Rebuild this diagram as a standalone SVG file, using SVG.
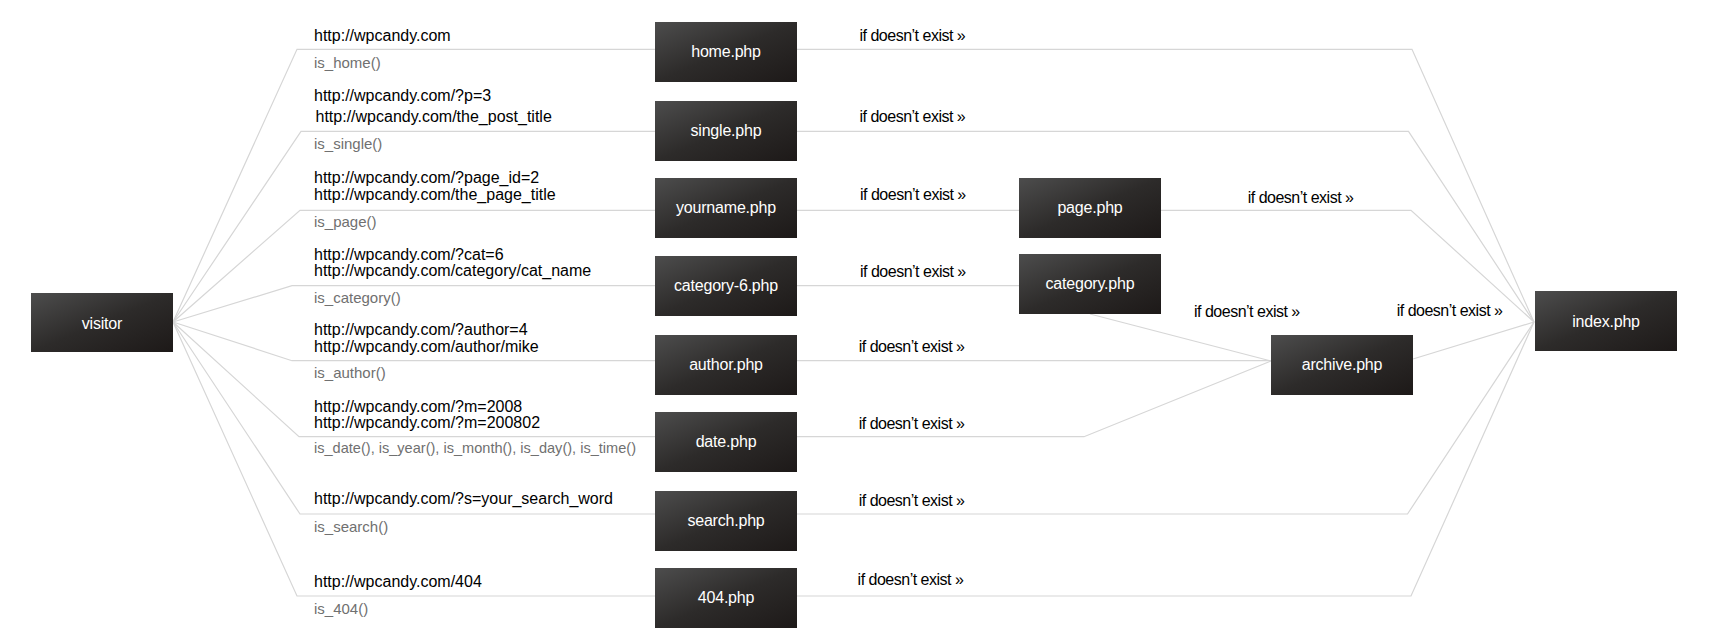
<svg xmlns="http://www.w3.org/2000/svg" width="1713" height="640" viewBox="0 0 1713 640">
<defs>
<linearGradient id="g" x1="0" y1="0" x2="1" y2="1">
<stop offset="0" stop-color="#4d4d4d"/>
<stop offset="0.5" stop-color="#2d2b2a"/>
<stop offset="1" stop-color="#1d1918"/>
</linearGradient>
</defs>
<style>
.box{fill:url(#g)}
.bt{font-family:"Liberation Sans",Arial,sans-serif;font-size:16px;fill:#ffffff;text-anchor:middle;letter-spacing:-0.2px}
.url{font-family:"Liberation Sans",Arial,sans-serif;font-size:16px;fill:#000000;letter-spacing:0px}
.fn{font-family:"Liberation Sans",Arial,sans-serif;font-size:15px;fill:#707070;letter-spacing:0px}
.ie{font-family:"Liberation Sans",Arial,sans-serif;font-size:16px;fill:#000000;letter-spacing:-0.5px}
.ln{fill:none;stroke:#d6d6d6;stroke-width:1.2}
</style>
<rect width="1713" height="640" fill="#ffffff"/>
<g id="connectors">
<polyline class="ln" points="173,322 297,49.3 1412,49.3 1534,322"/>
<polyline class="ln" points="173,322 301,131.3 1408.5,131.3 1534,322"/>
<polyline class="ln" points="173,322 300,210.3 1411,210.3 1534,322"/>
<polyline class="ln" points="173,322 292,285.7 1019,285.7"/>
<polyline class="ln" points="1090,314 1271,361"/>
<polyline class="ln" points="173,322 292,360.7 1271,360.7"/>
<polyline class="ln" points="173,322 299,436.7 1084,436.7 1271,361"/>
<polyline class="ln" points="173,322 300,514 1407.5,514 1534,322"/>
<polyline class="ln" points="173,322 297,596 1411,596 1534,322"/>
<polyline class="ln" points="1413,359 1534,322"/>
</g>
<g id="labels">
<text class="url" x="314" y="40.7">http://wpcandy.com</text>
<text class="fn" x="314" y="67.7">is_home()</text>
<text class="url" x="314" y="101">http://wpcandy.com/?p=3</text>
<text class="url" x="315.5" y="121.7">http://wpcandy.com/the_post_title</text>
<text class="fn" x="314" y="149">is_single()</text>
<text class="url" x="314" y="183.3">http://wpcandy.com/?page_id=2</text>
<text class="url" x="314" y="200">http://wpcandy.com/the_page_title</text>
<text class="fn" x="314" y="226.7">is_page()</text>
<text class="url" x="314" y="260">http://wpcandy.com/?cat=6</text>
<text class="url" x="314" y="276">http://wpcandy.com/category/cat_name</text>
<text class="fn" x="314" y="302.7">is_category()</text>
<text class="url" x="314" y="335">http://wpcandy.com/?author=4</text>
<text class="url" x="314" y="351.7">http://wpcandy.com/author/mike</text>
<text class="fn" x="314" y="377.7">is_author()</text>
<text class="url" x="314" y="411.7">http://wpcandy.com/?m=2008</text>
<text class="url" x="314" y="428.3">http://wpcandy.com/?m=200802</text>
<text class="fn" x="314" y="453.3" textLength="322" lengthAdjust="spacingAndGlyphs">is_date(), is_year(), is_month(), is_day(), is_time()</text>
<text class="url" x="314" y="504.3">http://wpcandy.com/?s=your_search_word</text>
<text class="fn" x="314" y="531.7">is_search()</text>
<text class="url" x="314" y="586.7">http://wpcandy.com/404</text>
<text class="fn" x="314" y="614">is_404()</text>
<text class="ie" x="859.5" y="40.7">if doesn’t exist »</text>
<text class="ie" x="859.5" y="122">if doesn’t exist »</text>
<text class="ie" x="860" y="200">if doesn’t exist »</text>
<text class="ie" x="860" y="276.7">if doesn’t exist »</text>
<text class="ie" x="858.7" y="351.7">if doesn’t exist »</text>
<text class="ie" x="858.7" y="429">if doesn’t exist »</text>
<text class="ie" x="858.7" y="505.7">if doesn’t exist »</text>
<text class="ie" x="857.6" y="585">if doesn’t exist »</text>
<text class="ie" x="1247.7" y="202.7">if doesn’t exist »</text>
<text class="ie" x="1194" y="316.7">if doesn’t exist »</text>
<text class="ie" x="1396.7" y="316">if doesn’t exist »</text>
</g>
<g id="visitor"><rect class="box" x="31" y="293" width="142" height="59"/><text class="bt" x="102" y="329">visitor</text></g>
<g id="home"><rect class="box" x="655" y="22" width="142" height="60"/><text class="bt" x="726" y="57">home.php</text></g>
<g id="single"><rect class="box" x="655" y="101" width="142" height="60"/><text class="bt" x="726" y="136">single.php</text></g>
<g id="yourname"><rect class="box" x="655" y="178" width="142" height="60"/><text class="bt" x="726" y="213">yourname.php</text></g>
<g id="category6"><rect class="box" x="655" y="256" width="142" height="60"/><text class="bt" x="726" y="291">category-6.php</text></g>
<g id="author"><rect class="box" x="655" y="335" width="142" height="60"/><text class="bt" x="726" y="370">author.php</text></g>
<g id="date"><rect class="box" x="655" y="412" width="142" height="60"/><text class="bt" x="726" y="447">date.php</text></g>
<g id="search"><rect class="box" x="655" y="491" width="142" height="60"/><text class="bt" x="726" y="526">search.php</text></g>
<g id="p404"><rect class="box" x="655" y="568" width="142" height="60"/><text class="bt" x="726" y="603">404.php</text></g>
<g id="page"><rect class="box" x="1019" y="178" width="142" height="60"/><text class="bt" x="1090" y="213">page.php</text></g>
<g id="category"><rect class="box" x="1019" y="254" width="142" height="60"/><text class="bt" x="1090" y="289">category.php</text></g>
<g id="archive"><rect class="box" x="1271" y="335" width="142" height="60"/><text class="bt" x="1342" y="370">archive.php</text></g>
<g id="index"><rect class="box" x="1535" y="291" width="142" height="60"/><text class="bt" x="1606" y="327">index.php</text></g>
</svg>
